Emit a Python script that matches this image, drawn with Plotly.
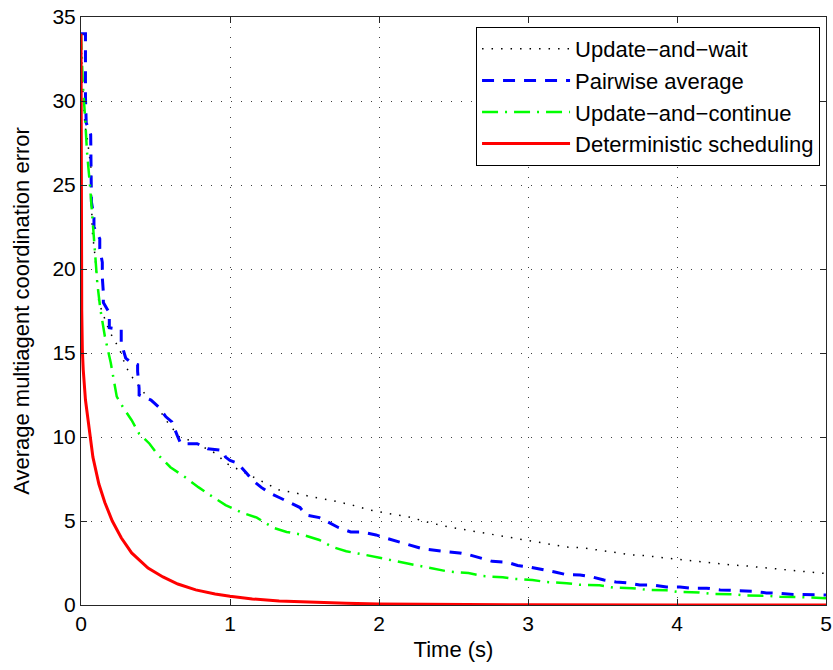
import plotly.graph_objects as go

# Update-and-wait (black dotted)
wait_t = [0, 0.01, 0.027, 0.04, 0.067, 0.075, 0.095, 0.12, 0.19, 0.26, 0.3, 0.34, 0.46, 0.5, 0.57,
          0.66, 0.73, 0.91, 0.97, 1.1, 1.22, 1.33, 1.44, 1.55, 1.67, 1.82, 1.94, 2.0, 2.12, 2.2,
          2.34, 2.47, 2.63, 2.7, 2.83, 2.96, 3.03, 3.26, 3.37, 3.7, 3.77, 4.0, 4.07, 4.37, 4.47,
          4.96, 5.0]
wait_v = [34, 31, 28.5, 27.9, 26, 22.3, 20.7, 18, 16.3, 15.2, 14.2, 13.6, 12.2, 12.0, 11.0,
          10.0, 9.8, 9.0, 8.45, 7.86, 7.3, 6.85, 6.67, 6.43, 6.25, 5.95, 5.65, 5.54, 5.36, 5.24,
          4.9, 4.64, 4.4, 4.29, 4.1, 3.87, 3.8, 3.45, 3.4, 2.98, 2.95, 2.7, 2.66, 2.38, 2.32,
          1.9, 1.88]

# Pairwise average (blue dashed, staircase-like)
pair_t = [0, 0.03, 0.03, 0.035, 0.065, 0.065, 0.07, 0.07, 0.087, 0.087, 0.126, 0.126, 0.143,
          0.143, 0.15, 0.15, 0.19, 0.19, 0.27, 0.27, 0.3, 0.34, 0.38, 0.38, 0.39, 0.39, 0.47,
          0.52, 0.57, 0.61, 0.65, 0.67, 0.78, 0.85, 0.95, 0.97, 1.0, 1.05, 1.11, 1.15, 1.21,
          1.26, 1.33, 1.4, 1.47, 1.51, 1.6, 1.73, 1.81, 1.88, 1.98, 2.04, 2.14, 2.2, 2.29, 2.43,
          2.54, 2.6, 2.69, 2.76, 2.86, 2.93, 3.01, 3.09, 3.18, 3.26, 3.35, 3.43, 3.51, 3.59,
          3.67, 3.75, 3.84, 3.93, 4.02, 4.1, 4.2, 4.29, 4.41, 4.51, 4.6, 4.69, 4.78, 4.87, 5.0]
pair_v = [34, 34, 30.2, 28.7, 28, 27.3, 26.4, 24, 23.1, 22.5, 21.8, 21.2, 20.4,
          19.5, 18.6, 18, 17.4, 16.5, 16.4, 15.6, 14.7, 14.4, 14.3, 13.9, 12.9, 12.5, 12.2,
          11.8, 11.2, 10.9, 10.0, 9.6, 9.6, 9.3, 9.2, 8.8, 8.6, 8.45, 7.86, 7.44, 7.0,
          6.7, 6.4, 6.1, 5.8, 5.36, 5.2, 4.6, 4.35, 4.35, 4.17, 4.0, 3.75, 3.6, 3.35, 3.2,
          3.1, 3.0, 2.8, 2.6, 2.55, 2.35, 2.26, 2.14, 1.96, 1.8, 1.79, 1.67, 1.49, 1.37,
          1.31, 1.19, 1.19, 1.07, 1.07, 1.0, 1.0, 0.9, 0.85, 0.82, 0.72, 0.7, 0.63, 0.62, 0.6]

# Update-and-continue (green dash-dot)
cont_t = [0, 0.005, 0.012, 0.027, 0.04, 0.06, 0.076, 0.09, 0.11, 0.13, 0.16, 0.2, 0.22, 0.24,
          0.28, 0.34, 0.39, 0.46, 0.51, 0.6, 0.7, 0.79, 0.89, 0.97, 1.08, 1.18, 1.29, 1.38,
          1.49, 1.6, 1.69, 1.78, 1.91, 2.0, 2.12, 2.2, 2.36, 2.46, 2.6, 2.7, 2.83, 2.91, 3.03,
          3.12, 3.26, 3.35, 3.48, 3.57, 3.7, 3.8, 3.93, 4.0, 4.15, 4.24, 4.37, 4.47, 4.6, 4.69,
          4.83, 5.0]
cont_v = [34, 33, 31, 29.1, 27, 25, 23.1, 21.1, 19.1, 17.6, 16.0, 14.4, 13.5, 12.4,
          11.8, 11.0, 10.2, 9.6, 9.0, 8.2, 7.6, 7.0, 6.4, 5.95, 5.5, 5.2, 4.6, 4.35,
          4.17, 3.87, 3.45, 3.2, 2.98, 2.8, 2.6, 2.45, 2.2, 2.0, 1.9, 1.72, 1.65, 1.55, 1.49,
          1.37, 1.3, 1.2, 1.17, 1.04, 1.0, 0.9, 0.88, 0.78, 0.75, 0.66, 0.64, 0.56, 0.55, 0.49,
          0.47, 0.4]

# Deterministic scheduling (red solid)
det_t = [0, 0.002, 0.005, 0.009, 0.015, 0.03, 0.05, 0.065, 0.08, 0.12, 0.16, 0.21, 0.27, 0.34,
         0.45, 0.55, 0.65, 0.77, 0.9, 1.0, 1.15, 1.33, 1.55, 1.78, 2.0, 2.5, 3.0, 4.0, 5.0]
det_v = [34, 24, 17.5, 15.2, 14.0, 12.2, 10.7, 9.8, 8.8, 7.2, 6.1, 5.0, 4.0, 3.1,
         2.2, 1.67, 1.25, 0.9, 0.65, 0.52, 0.36, 0.24, 0.15, 0.1, 0.06, 0.03, 0.015, 0.0, 0.0]

x_ticks = [0, 1, 2, 3, 4, 5]
y_ticks = [0, 5, 10, 15, 20, 25, 30, 35]

fig = go.Figure()
fig.add_trace(go.Scatter(x=wait_t, y=wait_v, mode="lines", name="Update\u2212and\u2212wait",
                         line=dict(color="black", width=1.5, dash="1.5px,8px")))
fig.add_trace(go.Scatter(x=pair_t, y=pair_v, mode="lines", name="Pairwise average",
                         line=dict(color="#0000ff", width=3, dash="12px,9px")))
fig.add_trace(go.Scatter(x=cont_t, y=cont_v, mode="lines", name="Update\u2212and\u2212continue",
                         line=dict(color="#00ff00", width=2.5, dash="16px,7px,2px,7px")))
fig.add_trace(go.Scatter(x=det_t, y=det_v, mode="lines", name="Deterministic scheduling",
                         line=dict(color="#ff0000", width=3)))

font_fam = "Liberation Sans, Arial, sans-serif"
axis_common = dict(
    showline=True, linecolor="#262626", linewidth=1, mirror="ticks",
    ticks="inside", ticklen=6, tickcolor="#262626",
    showgrid=True, gridcolor="#404040", gridwidth=1, griddash="1px,9px",
    zeroline=False, tickfont=dict(size=21, color="black", family=font_fam),
    automargin=False, ticklabeloverflow="allow",
)

fig.update_layout(
    width=833, height=670,
    margin=dict(l=81, r=7, t=17, b=65),
    paper_bgcolor="white", plot_bgcolor="white",
    font=dict(family=font_fam, color="black", size=22),
    xaxis=dict(range=[0, 5], tickvals=x_ticks, ticktext=[str(v) for v in x_ticks],
               title=dict(text="Time (s)", font=dict(size=22), standoff=7), **axis_common),
    yaxis=dict(range=[0, 35], tickvals=y_ticks, ticktext=[str(v) for v in y_ticks],
               title=dict(text="Average multiagent coordination error", font=dict(size=22), standoff=16),
               **axis_common),
    legend=dict(x=0.992, y=0.983, xanchor="right", yanchor="top",
                bgcolor="white", bordercolor="black", borderwidth=1,
                font=dict(size=22, color="black", family=font_fam),
                itemwidth=88, tracegroupgap=0),
    showlegend=True,
)

fig.write_html("out.html", config={"displayModeBar": False},
               post_script="document.body.style.margin='0';document.body.style.padding='0';")
